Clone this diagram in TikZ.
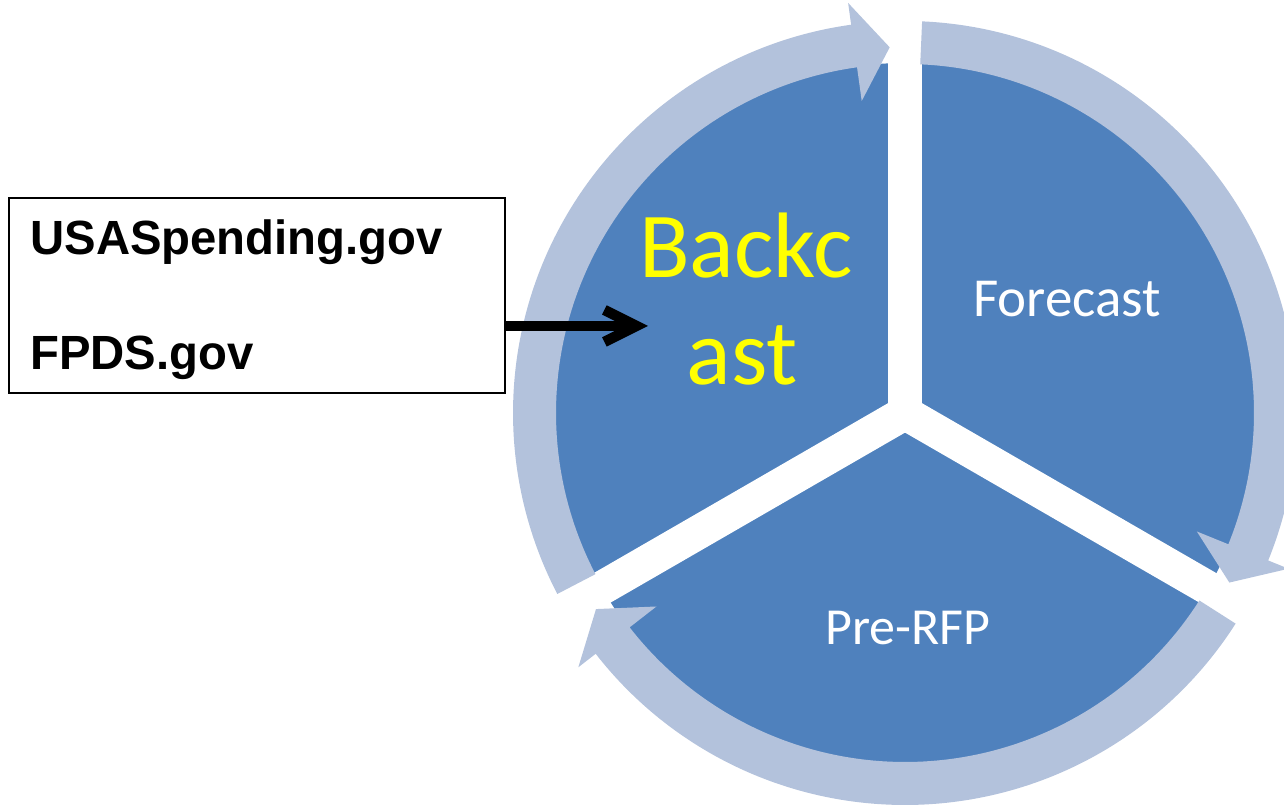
\documentclass[tikz,border=0pt]{standalone}
\usepackage{fontspec}
\newfontfamily\calib{Carlito}
\newfontfamily\arial{Liberation Sans}
\usetikzlibrary{arrows.meta}
\definecolor{pieblue}{HTML}{4F81BD}
\definecolor{ringblue}{HTML}{B3C2DC}
\definecolor{labelyellow}{HTML}{FFFF00}
\begin{document}
\begin{tikzpicture}[x=0.5pt,y=0.5pt,
  piefill/.style={fill=pieblue},
  gapline/.style={draw=white, line width=17pt},
  ringarrow/.style={fill=ringblue},
  biglabel/.style={text=labelyellow, font=\calib\fontsize{46.5}{46.5}\selectfont, anchor=base, inner sep=0pt},
  steplabel/.style={text=white, anchor=base, inner sep=0pt},
  srcbox/.style={draw=black, line width=1pt, minimum width=248pt, minimum height=97.5pt, inner sep=0pt},
  srctext/.style={anchor=base west, font=\arial\bfseries\fontsize{24}{24}\selectfont, inner sep=0pt, xscale=0.985},
  feed/.style={line width=5.2pt, -{Straight Barb[length=16pt,width=16pt]}}]
\useasboundingbox (0,0) rectangle (1284,806);
\coordinate (C) at (905,393);
% pie
\fill[piefill] (C) circle[radius=350];
\foreach \a in {90,-30,210} \draw[gapline] (C) -- ++(\a:365);
\fill[white] (C) circle[radius=17];
% ring arrows
\begin{scope}[shift={(C)}]
\foreach \s/\b/\t in {207.5/97.9/92.4, 87.5/-22.1/-27.6, -32.5/-142.1/-147.6}
  \fill[ringarrow] (\s:392) arc[start angle=\s, end angle=\b, radius=392]
    -- (\b:414) -- (\t:366) -- (\b:315) -- (\b:349)
    arc[start angle=\b, end angle=\s, radius=349] -- cycle;
\end{scope}
% labels
\node[biglabel] (bk1) at (746,528) {Backc};
\node[biglabel] (bk2) at (742,421) {ast};
\node[steplabel, font=\calib\fontsize{27.5}{27.5}\selectfont] (fc) at (1067,489) {Forecast};
\node[steplabel, font=\calib\fontsize{26}{26}\selectfont] (pr) at (908,161) {Pre-RFP};
% source box
\node[srcbox] (src) at (257,510.5) {};
\node[srctext] (usa) at (30,551) {USASpending.gov};
\node[srctext] (fpds) at (30,436) {FPDS.gov};
\coordinate (tip) at (648,480);
\draw[feed] (src.east |- tip) -- (tip);
\end{tikzpicture}
\end{document}
